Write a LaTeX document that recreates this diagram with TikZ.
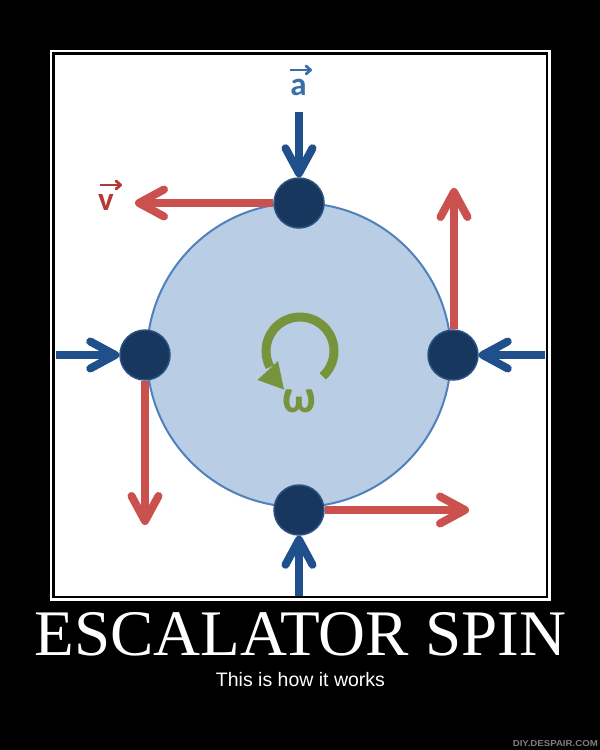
\documentclass[tikz,border=0pt]{standalone}
\usepackage{fontspec}
\setmainfont{Liberation Serif}
\newfontfamily\subfont{Liberation Sans}
\newfontfamily\calfont{Carlito}
\usetikzlibrary{arrows.meta}
\definecolor{cfill}{HTML}{B9CDE5}
\definecolor{cedge}{HTML}{4F81BD}
\definecolor{dotc}{HTML}{17375E}
\definecolor{dotedge}{HTML}{2C5282}
\definecolor{blu}{HTML}{20508C}
\definecolor{redc}{HTML}{CB514E}
\definecolor{grn}{HTML}{77933C}
\definecolor{alab}{HTML}{3A6FAA}
\definecolor{vlab}{HTML}{B23A37}
\definecolor{wmark}{HTML}{808080}
\begin{document}
\begin{tikzpicture}[x=1pt,y=-1pt,
  dotn/.style={circle,fill=dotc,draw=dotedge,line width=1.5pt,minimum size=50pt,inner sep=0pt},
  redarr/.style={draw=redc,line width=8pt,-{Straight Barb[length=25pt,width=27pt,round]}},
  bluarr/.style={draw=blu,line width=8pt,-{Straight Barb[length=25pt,width=27pt,round]}},
  vecarr/.style={line width=2.8pt,-{Straight Barb[length=4.5pt,width=8pt,round]}},
  lab/.style={inner sep=0pt,font=\calfont\bfseries\fontsize{33}{33}\selectfont}]
\useasboundingbox (0,0) rectangle (600,750);
\fill[black] (0,0) rectangle (600,750);
\draw[white,line width=2.5pt] (51,51) rectangle (549.5,599.5);
\fill[white] (54.5,54.5) rectangle (545.5,595.5);
% wheel
\node[circle,fill=cfill,draw=cedge,line width=2pt,minimum size=304pt,inner sep=0pt] (wheel) at (299,355) {};
% rotation arrow
\coordinate (rc) at (300,351);
\draw[grn,line width=9pt] ([shift={(48:34)}]rc) arc[start angle=48,end angle=-208,radius=34];
\coordinate (hL) at (257.5,380);
\coordinate (hR) at (278,361);
\coordinate (hT) at (284,389.5);
\fill[grn] (hL) -- (hR) -- (hT) -- cycle;
\node[text=grn,inner sep=0pt,font=\calfont\bfseries\fontsize{47}{47}\selectfont] (omega) at (299,401.5) {ω};
% dots
\node[dotn] (dT) at (299,203) {};
\node[dotn] (dB) at (299,510) {};
\node[dotn] (dL) at (145,355) {};
\node[dotn] (dR) at (453,355) {};
% velocity arrows
\coordinate (vTend) at (135,203);
\coordinate (vRend) at (454,188);
\coordinate (vLend) at (145,525);
\coordinate (vBend) at (469,510);
\draw[redarr] (dT.west) -- (vTend);
\draw[redarr] ([xshift=1pt]dR.north) -- (vRend);
\draw[redarr] (dL.south) -- (vLend);
\draw[redarr] (dB.east) -- (vBend);
% acceleration arrows
\coordinate (aTst) at (299,112);
\coordinate (aBst) at (299,596);
\coordinate (aLst) at (56,355);
\coordinate (aRst) at (545,355);
\draw[bluarr] (aTst) -- (dT.north);
\draw[bluarr] (aBst) -- (dB.south);
\draw[bluarr] (aLst) -- (dL.west);
\draw[bluarr] (aRst) -- (dR.east);
% labels
\node[lab,text=alab,anchor=base] (alabel) at (298.5,95) {a};
\coordinate (aVs) at (290,70);
\coordinate (aVe) at (312,70);
\draw[vecarr,alab] (aVs) -- (aVe);
\node[lab,text=vlab,anchor=base] (vlabel) at (106,210) {v};
\coordinate (vVs) at (100,185);
\coordinate (vVe) at (122,185);
\draw[vecarr,vlab] (vVs) -- (vVe);
% captions
\node[text=white,anchor=base,inner sep=0pt,font=\fontsize{65}{65}\selectfont] (title) at (300.5,655) {ESCALATOR SPIN};
\node[text=white,anchor=base,inner sep=0pt,font=\subfont\fontsize{19.5}{19.5}\selectfont] (sub) at (300.5,686) {This is how it works};
\node[text=wmark,anchor=south east,inner sep=0pt] (wm) at (598,747) {\resizebox{85pt}{6pt}{\subfont\bfseries DIY.DESPAIR.COM}};
\end{tikzpicture}
\end{document}
